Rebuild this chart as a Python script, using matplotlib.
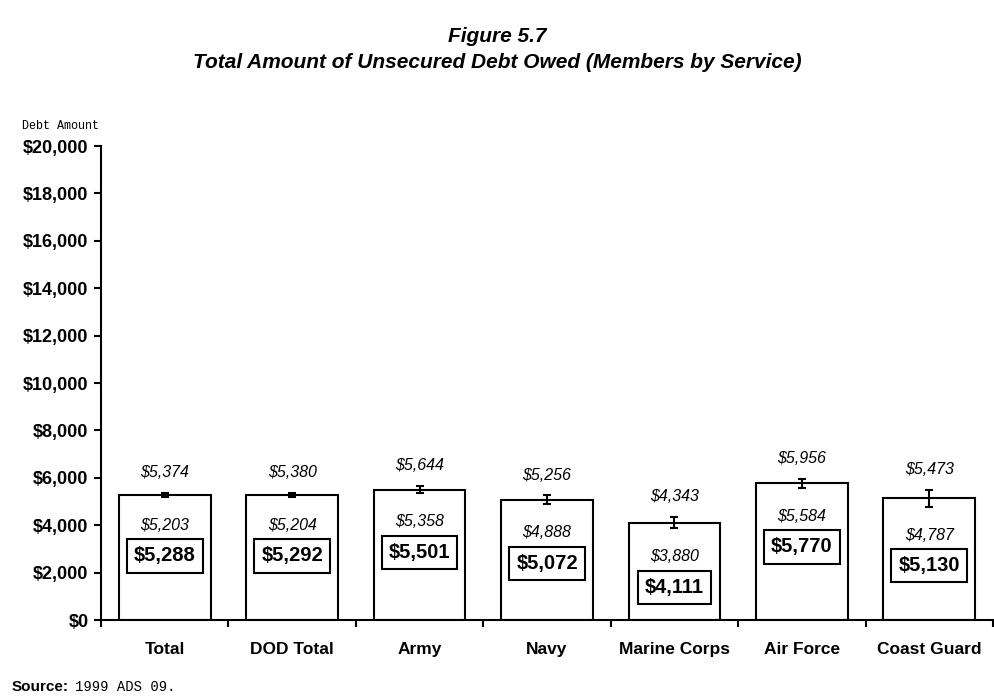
import matplotlib.pyplot as plt
import numpy as np

# Figure 5.7 data
services = ["Total", "DOD Total", "Army", "Navy", "Marine Corps", "Air Force", "Coast Guard"]
mean_debt = [5288, 5292, 5501, 5072, 4111, 5770, 5130]
upper_ci = [5374, 5380, 5644, 5256, 4343, 5956, 5473]
lower_ci = [5203, 5204, 5358, 4888, 3880, 5584, 4787]
y_ticks = [0, 2000, 4000, 6000, 8000, 10000, 12000, 14000, 16000, 18000, 20000]

plt.rcParams['font.family'] = ['Liberation Sans', 'DejaVu Sans']
mono = ["Liberation Mono", "DejaVu Sans Mono"]

fig = plt.figure(figsize=(9.95, 6.98), dpi=100)
ax = fig.add_axes([0.1015, 0.1117, 0.8965, 0.679])

x = np.arange(len(services))
ax.bar(x, mean_debt, width=0.72, color="white", edgecolor="black", linewidth=1.5, zorder=2)

# error bars run from the lower to the upper confidence value
yerr = [np.array(mean_debt) - np.array(lower_ci), np.array(upper_ci) - np.array(mean_debt)]
ax.errorbar(x, mean_debt, yerr=yerr, fmt="none", ecolor="black", elinewidth=1.5,
            capsize=3, capthick=1.5, zorder=3)

for i in range(len(services)):
    ax.text(x[i], upper_ci[i] + 860, f"${upper_ci[i]:,}", ha="center", va="center",
            fontsize=11.5, style="italic")
    ax.text(x[i], lower_ci[i] - 1200, f"${lower_ci[i]:,}", ha="center", va="center",
            fontsize=11.5, style="italic")
    ax.text(x[i], lower_ci[i] - 2500, f"${mean_debt[i]:,}", ha="center", va="center",
            fontsize=14.5, fontweight="bold",
            bbox=dict(boxstyle="square,pad=0.35", facecolor="white", edgecolor="black", linewidth=1.5),
            zorder=4)

ax.set_xlim(-0.5, len(services) - 0.5)
ax.set_ylim(0, 20000)
ax.set_yticks(y_ticks)
ax.set_yticklabels([f"${v:,}" for v in y_ticks], fontsize=13, fontweight="bold")
ax.set_xticks(x)
ax.set_xticklabels(services, fontsize=12.5, fontweight="bold")
ax.set_xticks(np.arange(-0.5, len(services)), minor=True)
ax.tick_params(axis="x", which="major", length=0, pad=16)
ax.tick_params(axis="x", which="minor", length=5, width=1.5, direction="out")
ax.tick_params(axis="y", length=5, width=1.5, direction="out", pad=4)

for side in ["top", "right"]:
    ax.spines[side].set_visible(False)
for side in ["left", "bottom"]:
    ax.spines[side].set_linewidth(1.5)

fig.text(0.5, 0.947, "Figure 5.7", ha="center", va="center", fontsize=15,
         fontweight="bold", style="italic")
fig.text(0.5, 0.911, "Total Amount of Unsecured Debt Owed (Members by Service)", ha="center",
         va="center", fontsize=15, fontweight="bold", style="italic")
fig.text(0.022, 0.82, "Debt Amount", ha="left", va="center", fontsize=8.5, family=mono)
fig.text(0.012, 0.016, "Source:", ha="left", va="center", fontsize=11, fontweight="bold")
fig.text(0.075, 0.016, "1999 ADS 09.", ha="left", va="center", fontsize=10, family=mono)

fig.savefig("out.png", dpi=100)
